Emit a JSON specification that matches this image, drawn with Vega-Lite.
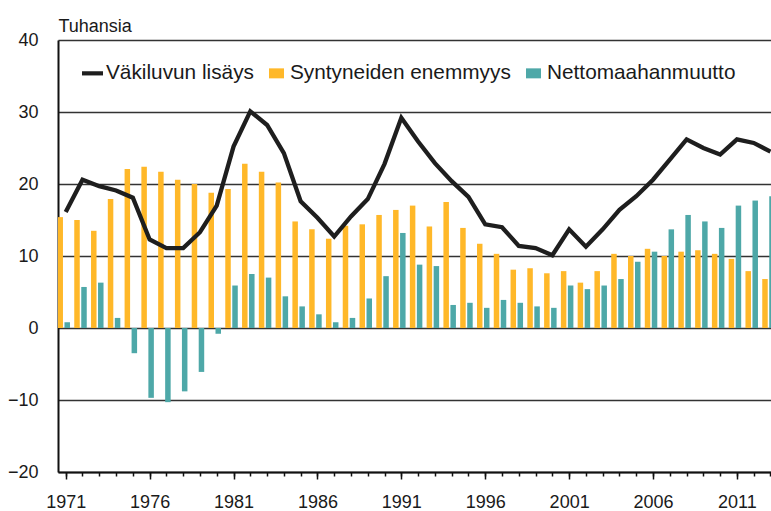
{
  "$schema": "https://vega.github.io/schema/vega-lite/v6.json",
  "width": 713,
  "height": 432,
  "autosize": {"type": "none"},
  "padding": {"left": 58, "top": 40, "right": 0, "bottom": 39},
  "background": "white",
  "config": {
    "view": {"stroke": null},
    "font": "Liberation Sans",
    "axis": {
      "labelFont": "Liberation Sans",
      "labelFontSize": 18,
      "labelColor": "#1a1a1a",
      "domainColor": "#111111",
      "domainWidth": 2,
      "tickColor": "#111111",
      "tickWidth": 1.5,
      "titleFont": "Liberation Sans",
      "labelFlush": false
    }
  },
  "data": {
    "values": [
      {"year": 1971, "births": 15.4, "net": 0.8, "growth": 16.1},
      {"year": 1972, "births": 15.0, "net": 5.7, "growth": 20.6},
      {"year": 1973, "births": 13.5, "net": 6.3, "growth": 19.7},
      {"year": 1974, "births": 17.9, "net": 1.4, "growth": 19.1},
      {"year": 1975, "births": 22.1, "net": -3.5, "growth": 18.1},
      {"year": 1976, "births": 22.4, "net": -9.7, "growth": 12.3},
      {"year": 1977, "births": 21.7, "net": -10.3, "growth": 11.1},
      {"year": 1978, "births": 20.6, "net": -8.8, "growth": 11.1},
      {"year": 1979, "births": 20.0, "net": -6.1, "growth": 13.3},
      {"year": 1980, "births": 18.8, "net": -0.8, "growth": 17.0},
      {"year": 1981, "births": 19.3, "net": 5.9, "growth": 25.2},
      {"year": 1982, "births": 22.8, "net": 7.5, "growth": 30.1},
      {"year": 1983, "births": 21.7, "net": 7.0, "growth": 28.2},
      {"year": 1984, "births": 20.2, "net": 4.4, "growth": 24.3},
      {"year": 1985, "births": 14.8, "net": 3.0, "growth": 17.6},
      {"year": 1986, "births": 13.7, "net": 1.9, "growth": 15.3},
      {"year": 1987, "births": 12.4, "net": 0.8, "growth": 12.7},
      {"year": 1988, "births": 14.2, "net": 1.4, "growth": 15.5},
      {"year": 1989, "births": 14.4, "net": 4.1, "growth": 17.9},
      {"year": 1990, "births": 15.7, "net": 7.2, "growth": 22.8},
      {"year": 1991, "births": 16.4, "net": 13.2, "growth": 29.2},
      {"year": 1992, "births": 17.0, "net": 8.8, "growth": 25.9},
      {"year": 1993, "births": 14.1, "net": 8.6, "growth": 22.9},
      {"year": 1994, "births": 17.5, "net": 3.2, "growth": 20.4},
      {"year": 1995, "births": 13.9, "net": 3.5, "growth": 18.2},
      {"year": 1996, "births": 11.7, "net": 2.8, "growth": 14.4},
      {"year": 1997, "births": 10.3, "net": 3.9, "growth": 14.0},
      {"year": 1998, "births": 8.1, "net": 3.5, "growth": 11.4},
      {"year": 1999, "births": 8.3, "net": 3.0, "growth": 11.1},
      {"year": 2000, "births": 7.6, "net": 2.8, "growth": 10.1},
      {"year": 2001, "births": 7.9, "net": 5.9, "growth": 13.7},
      {"year": 2002, "births": 6.3, "net": 5.4, "growth": 11.3},
      {"year": 2003, "births": 7.9, "net": 5.9, "growth": 13.7},
      {"year": 2004, "births": 10.3, "net": 6.8, "growth": 16.4},
      {"year": 2005, "births": 10.0, "net": 9.2, "growth": 18.3},
      {"year": 2006, "births": 11.0, "net": 10.6, "growth": 20.6},
      {"year": 2007, "births": 10.0, "net": 13.7, "growth": 23.4},
      {"year": 2008, "births": 10.6, "net": 15.7, "growth": 26.2},
      {"year": 2009, "births": 10.8, "net": 14.8, "growth": 25.0},
      {"year": 2010, "births": 10.3, "net": 13.9, "growth": 24.1},
      {"year": 2011, "births": 9.6, "net": 17.0, "growth": 26.2},
      {"year": 2012, "births": 7.9, "net": 17.7, "growth": 25.7},
      {"year": 2013, "births": 6.8, "net": 18.3, "growth": 24.5}
    ]
  },
  "resolve": {"axis": {"x": "independent"}},
  "layer": [
    {
      "mark": {"type": "bar", "size": 5.5, "xOffset": -5.5, "clip": true},
      "encoding": {
        "x": {
          "field": "year", "type": "quantitative",
          "scale": {"domain": [1970.54, 2013.03], "nice": false, "zero": false, "padding": 0},
          "axis": {
            "orient": "bottom",
            "values": [1971,1972,1973,1974,1975,1976,1977,1978,1979,1980,1981,1982,1983,1984,1985,1986,1987,1988,1989,1990,1991,1992,1993,1994,1995,1996,1997,1998,1999,2000,2001,2002,2003,2004,2005,2006,2007,2008,2009,2010,2011,2012,2013],
            "labels": false, "tickSize": 4, "grid": false, "title": null, "domain": true
          }
        },
        "y": {
          "field": "births", "type": "quantitative", "title": "Tuhansia",
          "scale": {"domain": [-20, 40], "nice": false, "zero": false},
          "axis": {
            "values": [-20, -10, 0, 10, 20, 30, 40],
            "grid": true, "gridColor": "#333333", "gridWidth": 1.6,
            "ticks": false, "tickSize": 0, "labelPadding": 20, "domain": true,
            "titleAngle": 0, "titleAlign": "left", "titleBaseline": "alphabetic",
            "titleX": 0, "titleY": -9, "titleFontSize": 18, "titleFontWeight": "normal", "titleColor": "#1a1a1a"
          }
        },
        "color": {
          "datum": "Syntyneiden enemmyys",
          "scale": {
            "domain": ["Väkiluvun lisäys", "Syntyneiden enemmyys", "Nettomaahanmuutto"],
            "range": ["#1e1e1e", "#FFB829", "#4EA8A8"]
          },
          "legend": {
            "title": null,
            "orient": "none",
            "legendX": 24,
            "legendY": 22.5,
            "direction": "horizontal",
            "columnPadding": 12,
            "labelFontSize": 20.8,
            "labelFont": "Liberation Sans",
            "labelColor": "#1a1a1a",
            "labelOffset": 3,
            "labelLimit": 400,
            "symbolSize": 441,
            "padding": 0,
            "encode": {
              "symbols": {
                "update": {
                  "shape": {"signal": "datum.value === 'Väkiluvun lisäys' ? 'M-1,-0.2H1V0.2H-1Z' : 'M-0.714,-0.476H0.714V0.476H-0.714Z'"},
                  "fill": {"signal": "datum.value === 'Väkiluvun lisäys' ? '#1e1e1e' : (datum.value === 'Syntyneiden enemmyys' ? '#FFB829' : '#4EA8A8')"},
                  "stroke": {"value": "transparent"},
                  "strokeWidth": {"value": 0},
                  "opacity": {"value": 1},
                  "fillOpacity": {"value": 1}
                }
              }
            }
          }
        }
      }
    },
    {
      "mark": {"type": "bar", "size": 5.5, "xOffset": 1.5, "clip": true},
      "encoding": {
        "x": {
          "field": "year", "type": "quantitative",
          "scale": {"domain": [1970.54, 2013.03], "nice": false, "zero": false, "padding": 0},
          "axis": {
            "orient": "bottom",
            "values": [1971, 1976, 1981, 1986, 1991, 1996, 2001, 2006, 2011],
            "format": "d", "tickSize": 7, "labelPadding": 14, "grid": false, "title": null, "domain": false
          }
        },
        "y": {
          "field": "net", "type": "quantitative", "title": "Tuhansia",
          "scale": {"domain": [-20, 40], "nice": false, "zero": false}
        },
        "color": {"datum": "Nettomaahanmuutto"}
      }
    },
    {
      "mark": {"type": "line", "strokeWidth": 4.3, "clip": true, "strokeJoin": "miter"},
      "encoding": {
        "x": {
          "field": "year", "type": "quantitative",
          "scale": {"domain": [1970.54, 2013.03], "nice": false, "zero": false, "padding": 0},
          "axis": null
        },
        "y": {
          "field": "growth", "type": "quantitative", "title": "Tuhansia",
          "scale": {"domain": [-20, 40], "nice": false, "zero": false}
        },
        "color": {"datum": "Väkiluvun lisäys"}
      }
    }
  ]
}
